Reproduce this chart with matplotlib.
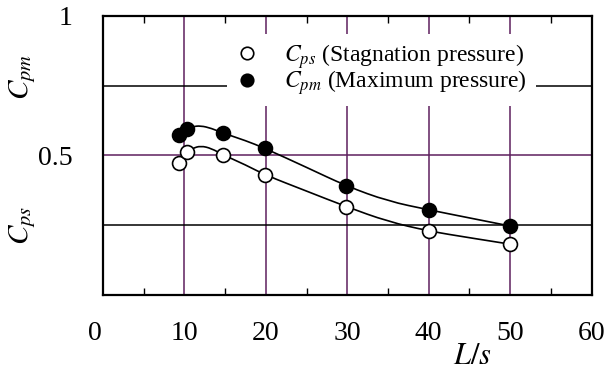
import numpy as np
import matplotlib
matplotlib.use("Agg")
import matplotlib.pyplot as plt
import matplotlib.transforms as mtransforms
from matplotlib.lines import Line2D
from matplotlib.path import Path
from matplotlib.patches import PathPatch

plt.rcParams['font.family'] = ['Liberation Serif', 'DejaVu Serif']
plt.rcParams['mathtext.fontset'] = 'stix'

# measured points
x_pts = [9.3, 10.3, 14.8, 19.9, 29.9, 40.0, 50.0]
cpm = [0.574, 0.593, 0.579, 0.525, 0.390, 0.305, 0.247]
cps = [0.474, 0.513, 0.501, 0.430, 0.316, 0.229, 0.182]

# fitted curves
curve_x = [10.3, 11.0, 12.0, 13.3, 14.8, 17.5, 19.9, 25.0, 29.9, 35.0, 40.0, 45.0, 50.0]
cpm_curve = [0.593, 0.603, 0.606, 0.597, 0.579, 0.553, 0.525, 0.457, 0.390, 0.336, 0.305, 0.276, 0.247]
cps_curve = [0.513, 0.525, 0.534, 0.525, 0.501, 0.466, 0.430, 0.372, 0.316, 0.263, 0.229, 0.205, 0.182]

purple = '#5e1f5e'


def smooth_path(xs, ys):
    # quadratic bezier through the midpoints, read points as controls
    pts = list(zip(xs, ys))
    verts = [pts[0]]
    codes = [Path.MOVETO]
    for i in range(1, len(pts) - 1):
        mid = ((pts[i][0] + pts[i + 1][0]) / 2, (pts[i][1] + pts[i + 1][1]) / 2)
        if i == len(pts) - 2:
            mid = pts[i + 1]
        verts += [pts[i], mid]
        codes += [Path.CURVE3, Path.CURVE3]
    return Path(verts, codes)


fig = plt.figure(figsize=(6.08, 3.72), dpi=100)
ax = fig.add_axes([0.1694, 0.207, 0.8035, 0.7508])

# grid
for xv in [10, 20, 30, 40, 50]:
    ax.axvline(xv, color=purple, lw=1.1, zorder=1)
ax.axhline(0.5, color=purple, lw=1.1, zorder=1)
for yv in [0.25, 0.75]:
    ax.axhline(yv, color='black', lw=1.1, zorder=1)

for cy in [cpm_curve, cps_curve]:
    ax.add_patch(PathPatch(smooth_path(curve_x, cy), fc='none', ec='black', lw=1.2, zorder=3))
ax.plot(x_pts, cpm, 'o', ms=10, mfc='black', mec='black', mew=1.2, zorder=4)
ax.plot(x_pts, cps, 'o', ms=10, mfc='white', mec='black', mew=1.2, zorder=4)

ax.set_xlim(0, 60)
ax.set_ylim(0, 1)
ax.set_xticks([0, 10, 20, 30, 40, 50, 60])
ax.set_xticks([5, 15, 25, 35, 45, 55], minor=True)
ax.set_yticks([0.5, 1])
ax.set_yticklabels(['0.5', '1'])
ax.tick_params(axis='x', which='major', length=0, pad=19, labelsize=20)
ax.tick_params(axis='x', which='minor', length=5, width=1, direction='in', top=True, bottom=True)
ax.tick_params(axis='y', which='major', length=0, pad=22, labelsize=20)
for s in ax.spines.values():
    s.set_linewidth(1.6)

fig.canvas.draw()
lab0 = ax.get_xticklabels()[0]
lab0.set_transform(lab0.get_transform() + mtransforms.ScaledTranslation(-8 / 100, 0, fig.dpi_scale_trans))

handles = [Line2D([], [], ls='none', marker='o', ms=9, mfc='white', mec='black', mew=1.2),
           Line2D([], [], ls='none', marker='o', ms=9, mfc='black', mec='black', mew=1.2)]
labels = [r'$C_{ps}$ (Stagnation pressure)', r'$C_{pm}$ (Maximum pressure)']
leg = ax.legend(handles, labels, loc='upper left', bbox_to_anchor=(0.253, 0.935),
                frameon=True, framealpha=1, facecolor='white', edgecolor='none',
                fancybox=False, fontsize=17, handlelength=1.0, handletextpad=1.1,
                labelspacing=-0.1, borderpad=0.35, borderaxespad=0)
leg.set_zorder(5)

fig.text(23 / 608, 1 - 77 / 372, r'$C_{pm}$', rotation=90, fontsize=21,
         ha='center', va='center')
fig.text(23 / 608, 1 - 225 / 372, r'$C_{ps}$', rotation=90, fontsize=21,
         ha='center', va='center')
fig.text(472 / 608, 1 - 356 / 372, r'$L/s$', fontsize=22, ha='center', va='center')

fig.savefig('out.png', dpi=100)
